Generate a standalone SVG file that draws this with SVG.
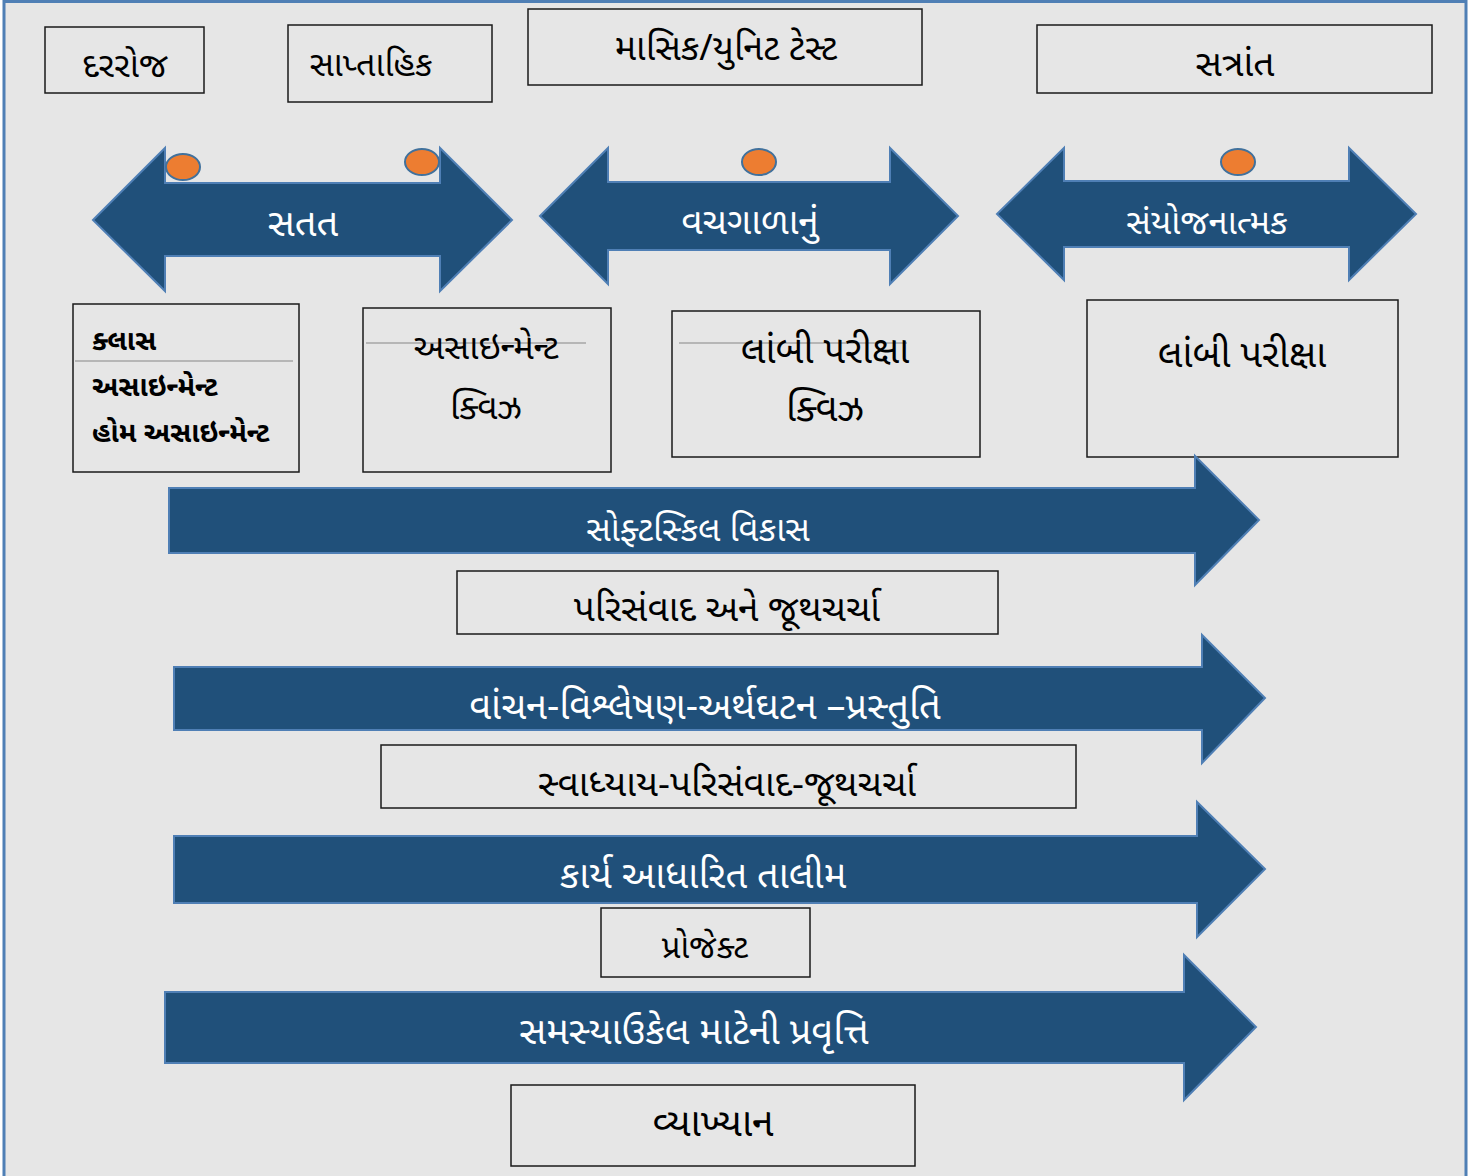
<svg xmlns="http://www.w3.org/2000/svg" width="1469" height="1176" viewBox="0 0 1469 1176">
<style>
.bg{fill:#e6e6e6;stroke:#4f7fb5;stroke-width:3}
.box{fill:none;stroke:#1a1a1a;stroke-width:1.5}
.arrow{fill:#20507a;stroke:#4f7fb5;stroke-width:2}
.dot{fill:#ed7d31;stroke:#41719c;stroke-width:2}
.rule{stroke:#a6a6a6;stroke-width:1.5}
text{font-family:"Noto Sans Gujarati","Shruti","Noto Sans","DejaVu Sans",sans-serif}
.t{fill:#000;font-size:36px;text-anchor:middle}
.tb{fill:#000;font-size:28px;font-weight:bold}
.w{fill:#fff;font-size:37px;text-anchor:middle}
</style>
<rect class="bg" x="4" y="1.5" width="1462" height="1200"/>
<g id="nodes">
<g id="daily"><rect class="box" x="45" y="27" width="159" height="66"/><text class="t" x="125" y="77" style="font-size:35px">દરરોજ</text></g>
<g id="weekly"><rect class="box" x="288" y="25" width="204" height="77"/><text class="t" x="371" y="76" style="font-size:34px">સાપ્તાહિક</text></g>
<g id="monthly"><rect class="box" x="528" y="9" width="394" height="76"/><text class="t" x="726" y="60">માસિક/યુનિટ ટેસ્ટ</text></g>
<g id="term"><rect class="box" x="1037" y="25" width="395" height="68"/><text class="t" x="1235" y="76" style="font-size:37px">સત્રાંત</text></g>

<g id="continuous">
<polygon class="arrow" points="93,220 165,148 165,183 440,183 440,148 512,220 440,291 440,256 165,256 165,291"/>
<ellipse class="dot" cx="183" cy="167" rx="17" ry="13"/>
<ellipse class="dot" cx="422" cy="162" rx="17" ry="13"/>
<text class="w" x="303" y="236" style="font-size:38px">સતત</text>
</g>
<g id="interim">
<polygon class="arrow" points="540,216 608,148 608,182 890,182 890,148 958,216 890,284 890,250 608,250 608,284"/>
<ellipse class="dot" cx="759" cy="162" rx="17" ry="13"/>
<text class="w" x="750" y="234">વચગાળાનું</text>
</g>
<g id="summative">
<polygon class="arrow" points="997,214 1064,148 1064,181 1349,181 1349,148 1416,214 1349,280 1349,247 1064,247 1064,280"/>
<ellipse class="dot" cx="1238" cy="162" rx="17" ry="13"/>
<text class="w" x="1207" y="234" style="font-size:34.5px">સંયોજનાત્મક</text>
</g>

<g id="box-class">
<rect class="box" x="73" y="304" width="226" height="168"/>
<line class="rule" x1="75" y1="361" x2="293" y2="361"/>
<text class="tb" x="92" y="350">ક્લાસ</text>
<text class="tb" x="92" y="396">અસાઇન્મેન્ટ</text>
<text class="tb" x="92" y="442">હોમ અસાઇન્મેન્ટ</text>
</g>
<g id="box-weekly">
<rect class="box" x="363" y="308" width="248" height="164"/>
<line class="rule" x1="366" y1="343" x2="586" y2="343"/>
<text class="t" x="486" y="359" style="font-size:35px">અસાઇન્મેન્ટ</text>
<text class="t" x="486" y="419" style="font-size:35px">ક્વિઝ</text>
</g>
<g id="box-interim">
<rect class="box" x="672" y="311" width="308" height="146"/>
<line class="rule" x1="679" y1="343" x2="907" y2="343"/>
<text class="t" x="825" y="363" style="font-size:38px">લાંબી પરીક્ષા</text>
<text class="t" x="825" y="421" style="font-size:38px">ક્વિઝ</text>
</g>
<g id="box-term">
<rect class="box" x="1087" y="300" width="311" height="157"/>
<text class="t" x="1242" y="367" style="font-size:38px">લાંબી પરીક્ષા</text>
</g>

<g id="softskill">
<polygon class="arrow" points="169,488 1195,488 1195,456 1259,520 1195,585 1195,553 169,553"/>
<text class="w" x="698" y="541" style="font-size:34.5px">સોફ્ટસ્કિલ વિકાસ</text>
</g>
<g id="seminar"><rect class="box" x="457" y="571" width="541" height="63"/><text class="t" x="727" y="621" style="font-size:37px">પરિસંવાદ અને જૂથચર્ચા</text></g>

<g id="reading">
<polygon class="arrow" points="174,667 1202,667 1202,635 1265,698 1202,763 1202,730 174,730"/>
<text class="w" x="705" y="719" style="font-size:38px">વાંચન-વિશ્લેષણ-અર્થઘટન –પ્રસ્તુતિ</text>
</g>
<g id="selfstudy"><rect class="box" x="381" y="745" width="695" height="63"/><text class="t" x="727" y="796" style="font-size:37px">સ્વાધ્યાય-પરિસંવાદ-જૂથચર્ચા</text></g>

<g id="work">
<polygon class="arrow" points="174,836 1197,836 1197,802 1265,869 1197,937 1197,903 174,903"/>
<text class="w" x="703" y="888" style="font-size:38px">કાર્ય આધારિત તાલીમ</text>
</g>
<g id="project"><rect class="box" x="601" y="908" width="209" height="69"/><text class="t" x="705" y="958" style="font-size:33px">પ્રોજેક્ટ</text></g>

<g id="problem">
<polygon class="arrow" points="165,992 1184,992 1184,955 1256,1027 1184,1100 1184,1063 165,1063"/>
<text class="w" x="694" y="1044" style="font-size:38px">સમસ્યાઉકેલ માટેની પ્રવૃત્તિ</text>
</g>
<g id="lecture"><rect class="box" x="511" y="1085" width="404" height="81"/><text class="t" x="713" y="1136" style="font-size:39px">વ્યાખ્યાન</text></g>
</g>
<g id="connectors"></g>
</svg>
